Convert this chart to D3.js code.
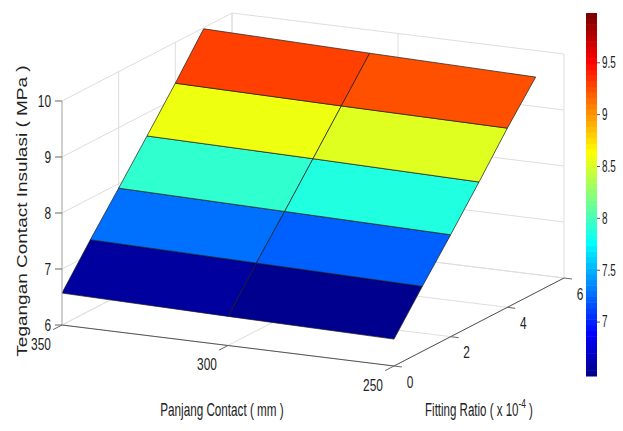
<!DOCTYPE html>
<html>
<head>
<meta charset="utf-8">
<script src="https://cdn.jsdelivr.net/npm/d3@7"></script>
<style>
  body { margin: 0; background: #fff; }
  svg { display: block; }
  text { font-family: "Liberation Sans", Arial, sans-serif; fill: #222; }
</style>
</head>
<body>
<div id="chart"></div>
<script>
// surface grid
const panjang = [350, 300, 250];          // Panjang Contact (mm)
const fitting = [0, 1, 2, 3, 4, 5];       // Fitting Ratio (x 10^-4)
const teganganAt350 = [6.57, 7.26, 7.92, 8.59, 9.27, 9.98];
const teganganAt300 = [6.52, 7.21, 7.87, 8.55, 9.23, 9.91];
const teganganAt250 = [6.48, 7.16, 7.82, 8.50, 9.20, 9.85];
const tegangan = [teganganAt350, teganganAt300, teganganAt250];

// tick labels
const xTicks = [350, 300, 250];
const yTicks = [0, 2, 4, 6];
const zTicks = [6, 7, 8, 9, 10];
const cbTicks = [7, 7.5, 8, 8.5, 9, 9.5];

const W = 623, H = 431;

const svg = d3.select("#chart").append("svg")
  .attr("width", W)
  .attr("height", H);

// axis box scales, then a fixed oblique projection of the box
const xS = d3.scaleLinear().domain([350, 250]).range([0, 1]);
const yS = d3.scaleLinear().domain([0, 6]).range([0, 1]);
const zS = d3.scaleLinear().domain([6, 10]).range([0, 1]);

const origin = [62, 325];
const ex = [332, 41];
const ey = [170, -88];
const ez = [0, -224];

function P(x, y, z) {
  const u = xS(x), v = yS(y), w = zS(z);
  return [origin[0] + u * ex[0] + v * ey[0] + w * ez[0],
          origin[1] + u * ex[1] + v * ey[1] + w * ez[1]];
}

// MATLAB jet(64)
function jet(m) {
  const n = Math.ceil(m / 4);
  const u = [];
  for (let i = 1; i <= n; i++) u.push(i / n);
  for (let i = 1; i < n; i++) u.push(1);
  for (let i = n; i >= 1; i--) u.push(i / n);
  const g0 = Math.ceil(n / 2) - (m % 4 === 1 ? 1 : 0);
  const J = d3.range(m).map(() => [0, 0, 0]);
  u.forEach((val, k) => {
    const g = g0 + k + 1, r = g + n, b = g - n;
    if (r <= m) J[r - 1][0] = val;
    if (g <= m) J[g - 1][1] = val;
    if (b >= 1) J[b - 1][2] = val;
  });
  return J.map(c => d3.rgb(c[0] * 255, c[1] * 255, c[2] * 255).formatHex());
}
const cmap = jet(64);
const clim = d3.extent(tegangan.flat());
const colorIndex = d3.scaleQuantize().domain(clim).range(d3.range(64));
const colorOf = z => cmap[colorIndex(z)];

const line = d3.line();
const gridColor = "#dedede";

// helper for the squeezed labels
function label(x, y, s, opt = {}) {
  const size = opt.size || 17, sx = opt.sx || 0.7;
  return svg.append("text")
    .attr("transform", `translate(${x},${y}) scale(${sx},1)` + (opt.rotate ? ` rotate(${opt.rotate})` : ""))
    .attr("text-anchor", opt.anchor || "middle")
    .attr("dominant-baseline", opt.baseline || "central")
    .style("font-size", size + "px")
    .text(s);
}

// ---- grid on the back walls and floor
const grid = svg.append("g")
  .attr("fill", "none")
  .attr("stroke", gridColor)
  .attr("stroke-width", 1);

zTicks.forEach(z => {
  grid.append("path").attr("d", line([P(350, 0, z), P(350, 6, z), P(250, 6, z)]));
});
yTicks.forEach(y => {
  grid.append("path").attr("d", line([P(350, y, 6), P(350, y, 10)]));
  grid.append("path").attr("d", line([P(350, y, 6), P(250, y, 6)]));
});
xTicks.forEach(x => {
  grid.append("path").attr("d", line([P(x, 0, 6), P(x, 6, 6), P(x, 6, 10)]));
});

// ---- surface
const surf = svg.append("g");
for (let j = 0; j < panjang.length - 1; j++) {
  for (let i = 0; i < fitting.length - 1; i++) {
    const pts = [
      P(panjang[j], fitting[i], tegangan[j][i]),
      P(panjang[j + 1], fitting[i], tegangan[j + 1][i]),
      P(panjang[j + 1], fitting[i + 1], tegangan[j + 1][i + 1]),
      P(panjang[j], fitting[i + 1], tegangan[j][i + 1])
    ];
    surf.append("path")
      .attr("d", line(pts) + "Z")
      .attr("fill", colorOf(tegangan[j][i]))
      .attr("stroke", "#1a1a1a")
      .attr("stroke-width", 0.7)
      .attr("stroke-linejoin", "round");
  }
}

// ---- axes
const axes = svg.append("g").attr("fill", "none").attr("stroke-width", 1);
axes.append("path").attr("d", line([P(350, 0, 6), P(250, 0, 6), P(250, 6, 6)]))
  .attr("stroke", "#555");
axes.append("path").attr("d", line([P(350, 0, 6), P(350, 0, 10)]))
  .attr("stroke", "#b0b0b0");

// z ticks
zTicks.forEach(z => {
  const p = P(350, 0, z);
  axes.append("path").attr("d", line([p, [p[0] - 7, p[1]]])).attr("stroke", "#666");
  label(p[0] - 11, p[1], String(z), { anchor: "end" });
});

// x ticks (point away from the y direction)
const ny = Math.hypot(ey[0], ey[1]);
xTicks.forEach(x => {
  const p = P(x, 0, 6);
  axes.append("path")
    .attr("d", line([p, [p[0] - ey[0] / ny * 10, p[1] - ey[1] / ny * 10]]))
    .attr("stroke", "#666");
  label(p[0] - 21, p[1] + 19, String(x));
});

// y ticks (point along x)
const nx = Math.hypot(ex[0], ex[1]);
yTicks.forEach(y => {
  const p = P(250, y, 6);
  axes.append("path")
    .attr("d", line([p, [p[0] + ex[0] / nx * 8, p[1] + ex[1] / nx * 8]]))
    .attr("stroke", "#666");
  label(p[0] + 16, p[1] + 16, String(y));
});

// axis titles
label(222, 416, "Panjang Contact ( mm )", { size: 18, sx: 0.65, baseline: "auto" });
const fr = label(479, 416, "", { size: 18, sx: 0.64, baseline: "auto" });
fr.append("tspan").text("Fitting Ratio ( x 10");
fr.append("tspan").attr("dy", -8).style("font-size", "13px").text("-4");
fr.append("tspan").attr("dy", 8).text(" )");
label(27, 211, "Tegangan Contact Insulasi ( MPa )",
  { size: 19, sx: 0.74, rotate: -90, baseline: "auto" });

// ---- colorbar
const cbX = 586, cbW = 11;
const cbY = d3.scaleLinear().domain(clim).range([376, 13]);
const cb = svg.append("g");
const step = (clim[1] - clim[0]) / cmap.length;
cmap.forEach((c, k) => {
  const lo = clim[0] + k * step, hi = lo + step;
  cb.append("rect")
    .attr("x", cbX)
    .attr("y", cbY(hi))
    .attr("width", cbW)
    .attr("height", cbY(lo) - cbY(hi) + 0.5)
    .attr("fill", c);
});
cbTicks.forEach(t => {
  const y = cbY(t);
  cb.append("path").attr("d", line([[cbX + cbW, y], [cbX + cbW + 3, y]]))
    .attr("stroke", "#555").attr("fill", "none");
  label(cbX + cbW + 5, y, String(t), { anchor: "start", size: 16, sx: 0.62 });
});
</script>
</body>
</html>
